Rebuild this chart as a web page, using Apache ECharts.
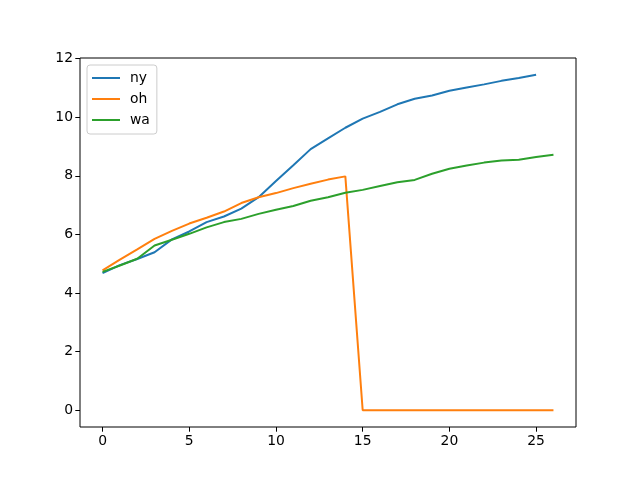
<!DOCTYPE html>
<html>
<head>
<meta charset="utf-8">
<script src="https://cdn.jsdelivr.net/npm/echarts@6/dist/echarts.min.js"></script>
<style>
html, body { margin: 0; padding: 0; background: #fff; }
#chart { width: 640px; height: 480px; }
</style>
</head>
<body>
<div id="chart"></div>
<script>
const seriesNames = ['ny', 'oh', 'wa'];
const nyValues = [4.68, 4.95, 5.16, 5.39, 5.83, 6.1, 6.42, 6.61, 6.88, 7.27, 7.82, 8.36, 8.91, 9.28,
    9.64, 9.95, 10.18, 10.44, 10.63, 10.74, 10.9, 11.01, 11.12, 11.24, 11.34, 11.45];
const ohValues = [4.77, 5.14, 5.49, 5.85, 6.12, 6.37, 6.57, 6.78, 7.07, 7.27, 7.41, 7.58, 7.73, 7.87,
    7.98, 0, 0, 0, 0, 0, 0, 0, 0, 0, 0, 0, 0];
const waValues = [4.72, 4.94, 5.17, 5.62, 5.82, 6.02, 6.24, 6.42, 6.53, 6.7, 6.84, 6.97, 7.15, 7.27,
    7.42, 7.52, 7.65, 7.78, 7.86, 8.07, 8.24, 8.35, 8.45, 8.52, 8.55, 8.64, 8.72];
const xTicks = [0, 5, 10, 15, 20, 25];
const yTicks = [0, 2, 4, 6, 8, 10, 12];

const colors = ['#1f77b4', '#ff7f0e', '#2ca02c'];
const allValues = [nyValues, ohValues, waValues];

const chart = echarts.init(document.getElementById('chart'), null, { renderer: 'canvas' });

const axisFont = { fontFamily: 'DejaVu Sans', fontSize: 13.9, color: '#000' };

const option = {
    animation: false,
    textStyle: { fontFamily: 'DejaVu Sans' },
    grid: {
        left: 80, right: 64, top: 58, bottom: 53,
        show: true, borderColor: '#000', borderWidth: 1, backgroundColor: 'transparent'
    },
    legend: {
        orient: 'vertical',
        left: 87,
        top: 65,
        padding: [5, 7, 6, 5],
        icon: 'rect',
        itemWidth: 28,
        itemHeight: 2,
        itemGap: 5,
        backgroundColor: '#fff',
        borderColor: '#cccccc',
        borderWidth: 1,
        borderRadius: 3,
        textStyle: { fontFamily: 'DejaVu Sans', fontSize: 13.9, lineHeight: 16, color: '#000', padding: [0, 0, 0, 5] },
        data: seriesNames
    },
    xAxis: {
        type: 'value',
        min: -1.3,
        max: 27.3,
        splitLine: { show: false },
        axisLine: { show: false, onZero: false },
        axisTick: { show: true, inside: false, length: 4.7, customValues: xTicks, lineStyle: { color: '#000', width: 1 } },
        axisLabel: Object.assign({ customValues: xTicks, margin: 7 }, axisFont)
    },
    yAxis: {
        type: 'value',
        min: -0.5725,
        max: 12.02,
        splitLine: { show: false },
        axisLine: { show: false, onZero: false },
        axisTick: { show: true, inside: false, length: 4.7, customValues: yTicks, lineStyle: { color: '#000', width: 1 } },
        axisLabel: Object.assign({ customValues: yTicks, margin: 7 }, axisFont)
    },
    series: seriesNames.map((name, k) => ({
        name: name,
        type: 'line',
        symbol: 'none',
        color: colors[k],
        lineStyle: { width: 2, color: colors[k] },
        data: allValues[k].map((v, i) => [i, v])
    }))
};

chart.setOption(option);
</script>
</body>
</html>
